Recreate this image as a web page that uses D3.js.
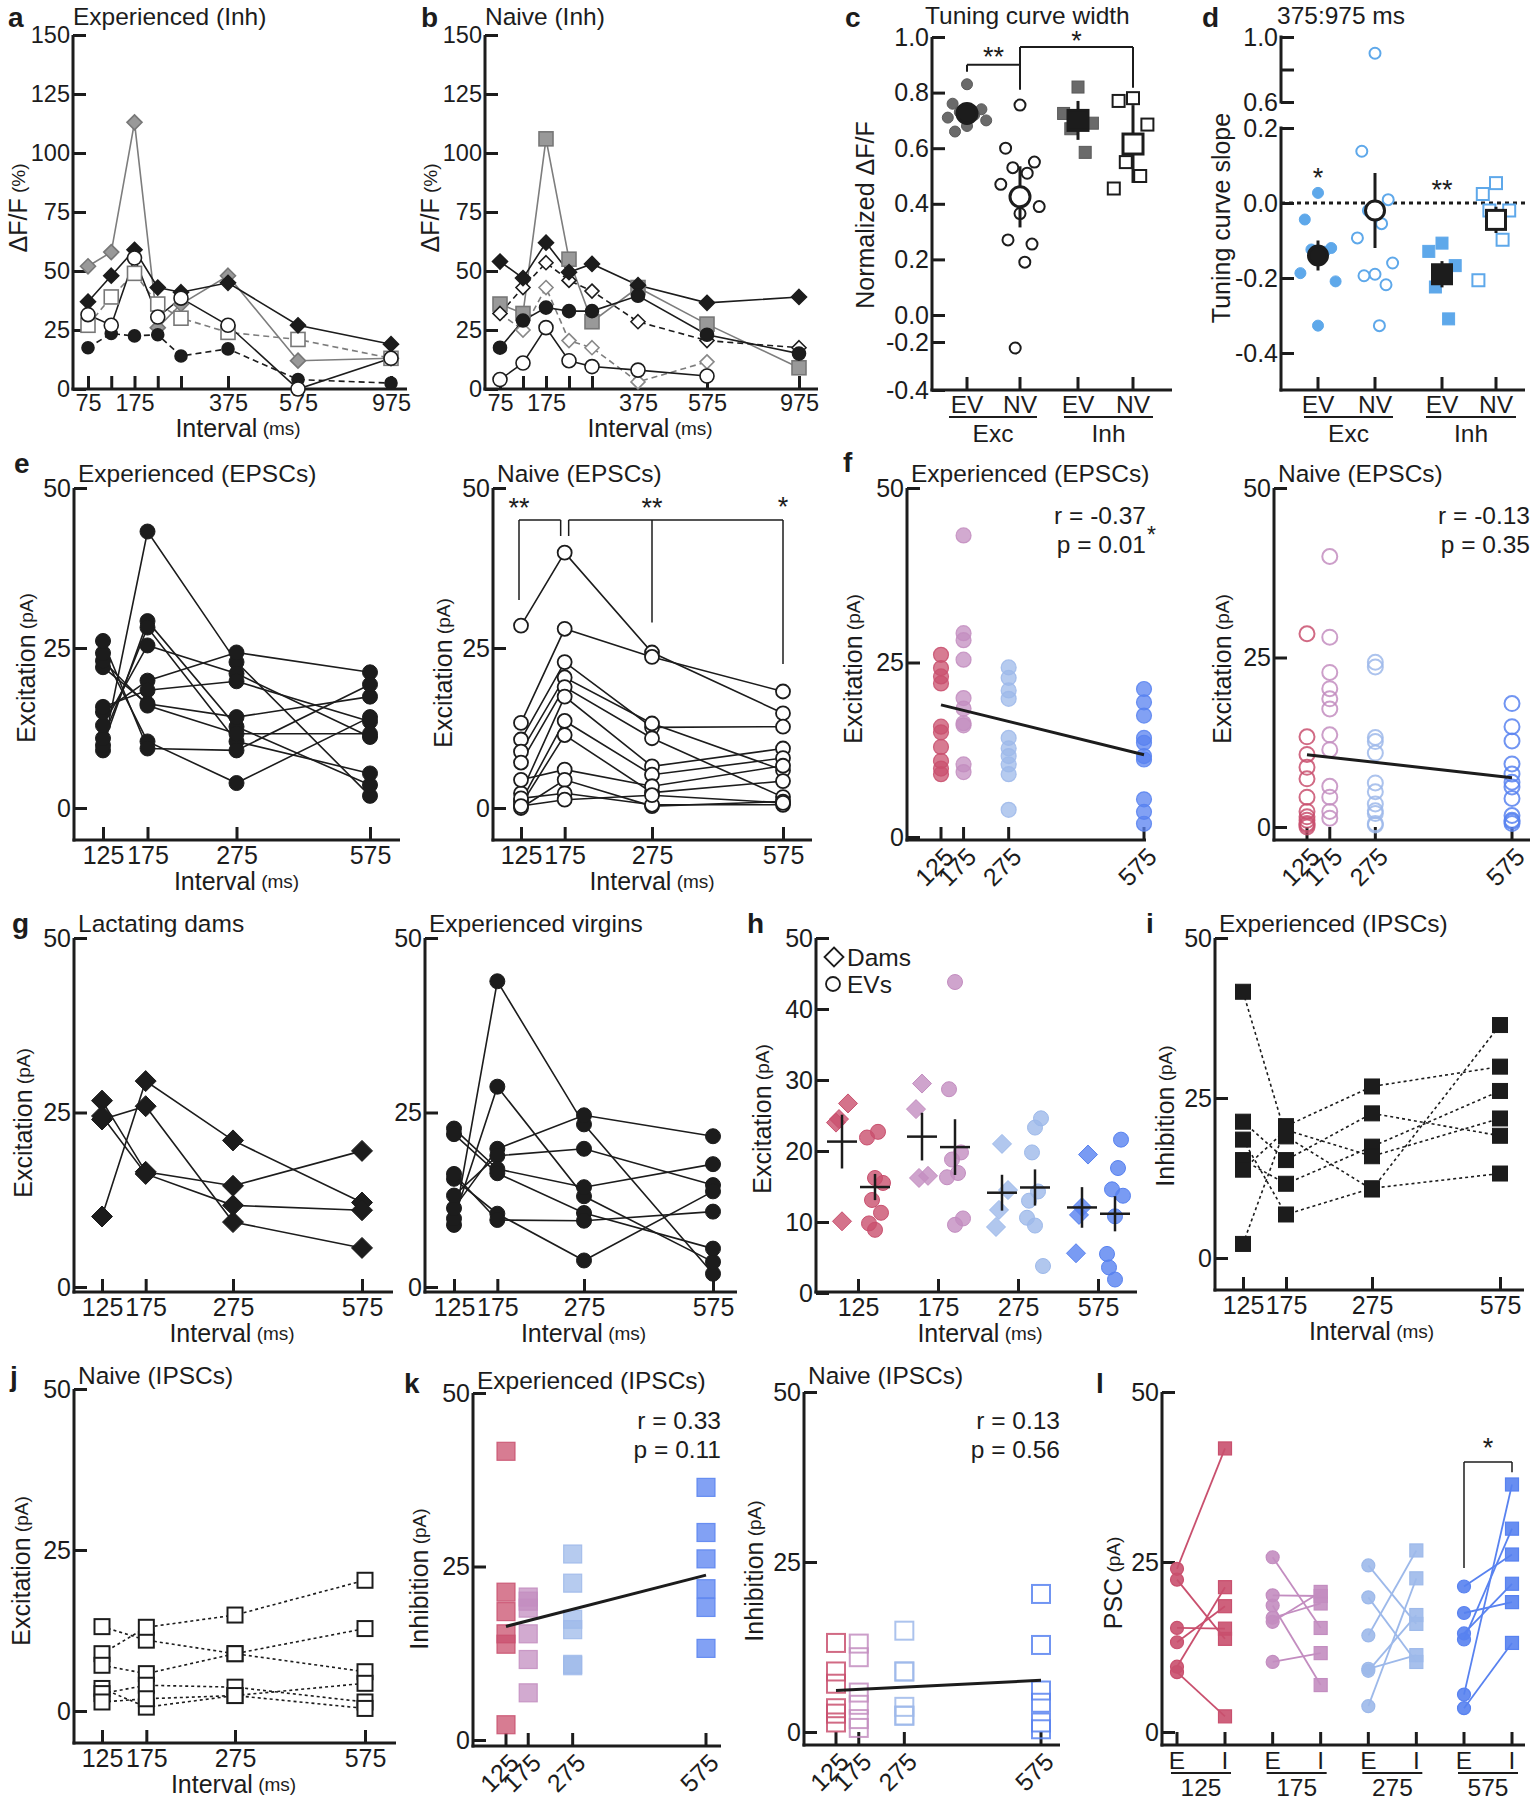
<!DOCTYPE html>
<html>
<head>
<meta charset="utf-8">
<script src="https://cdn.jsdelivr.net/npm/d3@7"></script>
<style>
  body { margin: 0; background: #fff; }
  svg text { font-family: "Liberation Sans", Arial, sans-serif; fill: #1c1c1c; }
</style>
</head>
<body>
<script>
'use strict';

// ---------- data ----------
// a / b : dF/F (%) per interval
const ivA = [75, 125, 175, 225, 275, 375, 575, 975];
const ivLabA = [75, 175, 375, 575, 975];
const aGrayDia = [52, 58, 113, 26, 36, 48, 12, 13];
const aBlackDia = [37, 48, 59, 43, 41, 45, 27, 19];
const aOpenCirc = [31.5, 27, 55.5, 30.5, 38.5, 27, 0, 13];
const aOpenSq = [27, 39, 49, 36, 30, 24, 21, 13];
const aBlackCirc = [17.5, 23.5, 22.5, 23, 14, 17, 4, 2.5];

const bBlackDia = [54, 47, 62, 49.5, 53, 44, 36.5, 39];
const bOpenDia = [32, 43, 53.5, 46, 41.5, 28.5, 20.5, 17.5];
const bGraySq = [36, 32, 106, 55, 28.5, 43, 27.5, 9];
const bBlackCirc = [17.5, 29, 34.5, 33, 33, 39.5, 23, 15];
const bGrayOpenDia = [32, 25, 43, 20.5, 17.5, 3, 11.5, null];
const bOpenCirc = [4, 11, 26, 12, 9.5, 8, 5.5, null];

// c : tuning curve width
const cLabels = ['EV', 'NV', 'EV', 'NV'];
const cExcEV = [0.83, 0.76, 0.74, 0.73, 0.72, 0.71, 0.70, 0.68, 0.66];
const cExcNV = [0.755, 0.60, 0.55, 0.53, 0.51, 0.47, 0.39, 0.365, 0.27, 0.255, 0.19, -0.225];
const cInhEV = [0.82, 0.725, 0.69, 0.67, 0.585];
const cInhNV = [0.78, 0.77, 0.685, 0.55, 0.50, 0.455];
const cMean = [0.725, 0.425, 0.70, 0.615];
const cErr = [0.02, 0.11, 0.07, 0.14];

// d : tuning curve slope
const dExcEV = [0.027, -0.044, -0.12, -0.124, -0.13, -0.187, -0.209, -0.327];
const dExcNV = [0.9, 0.138, 0.009, -0.02, -0.055, -0.093, -0.16, -0.19, -0.194, -0.218, -0.327];
const dInhEV = [-0.107, -0.129, -0.167, -0.224, -0.309];
const dInhNV = [0.053, 0.024, -0.02, -0.02, -0.098, -0.206];
const dMean = [-0.14, -0.02, -0.19, -0.045];
const dErr = [0.04, 0.10, 0.035, 0.035];

// e-l : PSC amplitudes (pA), one row per cell, columns = ivE
const ivE = [125, 175, 275, 575];
const epscExp = [
  [9.0, 43.2, 22.8, 1.9], [9.8, 29.2, 12.7, 3.6], [10.9, 28.2, 10.4, 5.4],
  [12.9, 25.4, 21.0, 11.1], [15.0, 19.9, 24.3, 21.2], [15.8, 18.4, 19.8, 13.5],
  [22.0, 16.3, 14.2, 17.4], [23.0, 16.0, 11.6, 11.6], [24.2, 10.4, 3.9, 14.2],
  [26.1, 9.3, 9.0, 19.3]
];
const epscNaive = [
  [28.5, 39.9, 24.3, 14.8], [13.3, 28.0, 23.6, 18.2], [10.7, 22.8, 12.6, 12.7],
  [8.8, 20.4, 13.2, 5.9], [7.1, 18.9, 10.9, 1.7], [2.3, 17.4, 6.5, 9.3],
  [1.0, 13.6, 5.2, 7.8], [0.5, 11.4, 2.4, 4.2], [4.4, 6.0, 3.4, 6.6],
  [0.0, 4.4, 0.3, 1.0], [1.5, 2.3, 0.5, 0.5], [0.3, 1.3, 2.0, 0.8]
];
const damsExc = [
  [10.1, 29.5, 21.0, 12.1], [24.0, 25.9, 9.3, 5.6],
  [26.7, 16.5, 14.5, 19.5], [24.5, 16.2, 11.7, 11.0]
];
const evExc = [
  [8.9, 43.8, 23.3, 1.9], [9.8, 28.7, 13.0, 3.6], [11.3, 19.8, 24.6, 21.6],
  [13.1, 18.8, 19.8, 14.6], [22.7, 16.9, 14.3, 17.6], [21.9, 16.3, 10.6, 5.5],
  [15.5, 10.5, 3.8, 13.7], [16.2, 9.6, 9.5, 10.8]
];
const ipscExp = [
  [41.6, 19.0, 10.7, 36.4], [2.2, 20.6, 26.8, 29.9], [21.3, 15.3, 22.6, 19.1],
  [15.3, 11.6, 17.4, 26.1], [13.8, 20.0, 15.9, 21.8], [18.5, 6.8, 10.9, 13.2]
];
const ipscNaive = [
  [13.1, 11.0, 8.9, 6.1], [8.9, 13.0, 14.9, 20.3], [7.1, 5.8, 8.9, 12.8],
  [3.5, 0.6, 2.4, 4.3], [2.7, 4.0, 3.7, 1.4], [1.4, 1.9, 2.4, 0.4]
];
// l : paired E / I per interval (columns = cells)
const lExc = [
  [24.0, 22.4, 15.3, 13.2, 9.6, 8.8],
  [25.7, 20.1, 18.6, 16.8, 16.2, 10.3],
  [24.5, 19.8, 14.2, 9.3, 3.8, 9.0],
  [21.4, 17.5, 14.5, 13.6, 5.5, 3.5]
];
const lInh = [
  [41.7, 13.7, 15.2, 18.5, 21.3, 2.3],
  [15.3, 20.0, 6.9, 18.9, 20.6, 11.6],
  [15.9, 10.3, 26.7, 11.3, 22.6, 17.2],
  [26.1, 19.1, 21.8, 29.9, 36.4, 13.1]
];

// ---------- helpers ----------
const INK = '#1c1c1c';
const GRAY = '#7d7d7d';
const COL = {125: '#c9506e', 175: '#c38dc0', 275: '#9db9ea', 575: '#5882f0'};
const DBLUE = '#5ea8ea';
const FS = 24.5;   // main text size
const TS = 25;     // tick label size

const svg = d3.select('body').append('svg').attr('width', 1533).attr('height', 1800);

function seg(g, x1, y1, x2, y2, w, col, dash) {
  return g.append('line').attr('x1', x1).attr('y1', y1).attr('x2', x2).attr('y2', y2)
    .attr('stroke', col || INK).attr('stroke-width', w || 3).attr('stroke-dasharray', dash || null);
}
function txt(g, x, y, s, size, anchor, weight) {
  return g.append('text').attr('x', x).attr('y', y).attr('font-size', size || FS)
    .attr('text-anchor', anchor || 'start').attr('dominant-baseline', 'central')
    .attr('font-weight', weight || null).text(s);
}
function unitText(g, x, y, main, unit, rotate) {
  const t = g.append('text').attr('text-anchor', 'middle').attr('dominant-baseline', 'central')
    .attr('transform', `translate(${x},${y})` + (rotate ? ' rotate(-90)' : ''));
  t.append('tspan').attr('font-size', 25).text(main);
  if (unit) t.append('tspan').attr('font-size', 19).text(' ' + unit);
  return t;
}
function mark(g, shape, x, y, r, fill, stroke, sw, op) {
  let el;
  if (shape === 'circle') el = g.append('circle').attr('cx', x).attr('cy', y).attr('r', r);
  else if (shape === 'square') el = g.append('rect').attr('x', x - r).attr('y', y - r).attr('width', 2 * r).attr('height', 2 * r);
  else el = g.append('path').attr('d', `M${x},${y - r}L${x + r},${y}L${x},${y + r}L${x - r},${y}Z`);
  el.attr('fill', fill).attr('stroke', stroke || 'none').attr('stroke-width', sw || 0);
  if (op != null) el.attr('fill-opacity', op);
  return el;
}
function frame(g, o) {
  seg(g, o.ax, o.top, o.ax, o.axY + 1.5);
  seg(g, o.ax - 1.5, o.axY, o.xEnd, o.axY);
}
function yAxis(g, x, scale, ticks, fmt, size) {
  const a = g.append('g').attr('transform', `translate(${x},0)`)
    .call(d3.axisLeft(scale).tickValues(ticks).tickSize(-13).tickPadding(3).tickFormat(fmt || (d => d)));
  a.select('.domain').remove();
  a.selectAll('.tick line').attr('stroke', INK).attr('stroke-width', 3);
  a.selectAll('.tick text').attr('font-size', size || TS);
  return a;
}
function xAxis(g, yPos, scale, ticks, fmt, pad, size) {
  const a = g.append('g').attr('transform', `translate(0,${yPos})`)
    .call(d3.axisBottom(scale).tickValues(ticks).tickSize(-13).tickPadding(pad || 6).tickFormat(fmt || (d => d)));
  a.select('.domain').remove();
  a.selectAll('.tick line').attr('stroke', INK).attr('stroke-width', 3);
  a.selectAll('.tick text').attr('font-size', size || TS);
  return a;
}
function jit(i) { return [0, -12, 12, -6, 6, -16, 16, 0, -10, 10, 4, -4][i % 12]; }
function fit(cells) {
  const pts = cells.flatMap(c => c.map((v, i) => [ivE[i], v]));
  const xm = d3.mean(pts, p => p[0]), ym = d3.mean(pts, p => p[1]);
  let sxy = 0, sxx = 0;
  pts.forEach(p => { sxy += (p[0] - xm) * (p[1] - ym); sxx += (p[0] - xm) ** 2; });
  const b = sxy / sxx;
  return v => ym + b * (v - xm);
}

// ---------- a / b ----------
function panelAB(o, series) {
  const g = svg.append('g');
  const x = d3.scaleLinear().domain([75, 275, 375, 575, 975]).range(o.xr);
  const y = d3.scaleLinear().domain([0, 150]).range([o.axY, o.top]);
  frame(g, o);
  yAxis(g, o.ax, y, [0, 25, 50, 75, 100, 125, 150], null, 23.5);
  xAxis(g, o.axY, x, ivA, d => ivLabA.includes(d) ? d : '', 5, 23.5);
  const ln = d3.line().defined(d => d[1] != null).x(d => x(d[0])).y(d => y(d[1]));
  series.forEach(s => {
    g.append('path').datum(ivA.map((v, i) => [v, s.data[i]])).attr('d', ln)
      .attr('fill', 'none').attr('stroke', s.stroke).attr('stroke-width', 1.6)
      .attr('stroke-dasharray', s.dash || null);
  });
  series.forEach(s => s.data.forEach((v, i) => {
    if (v != null) mark(g, s.shape, x(ivA[i]), y(v), s.r, s.fill, s.mstroke, 1.6);
  }));
  txt(g, o.ax, 16, o.title, FS);
  txt(g, o.letX, 17, o.letter, 28, 'start', 'bold');
  unitText(g, o.ylx, 208, 'ΔF/F', '(%)', true);
  unitText(g, o.xlx, 428, 'Interval', '(ms)');
}

panelAB({ax: 73, top: 35, axY: 389, xEnd: 407, xr: [88, 181, 228, 298, 391],
  title: 'Experienced (Inh)', letter: 'a', letX: 8, ylx: 18, xlx: 238}, [
  {data: aGrayDia, stroke: GRAY, shape: 'diamond', r: 7.5, fill: '#999', mstroke: '#777'},
  {data: aOpenSq, stroke: GRAY, dash: '6,4', shape: 'square', r: 7, fill: '#fff', mstroke: '#777'},
  {data: aBlackDia, stroke: INK, shape: 'diamond', r: 7.5, fill: INK, mstroke: INK},
  {data: aBlackCirc, stroke: INK, dash: '6,4', shape: 'circle', r: 6, fill: INK, mstroke: INK},
  {data: aOpenCirc, stroke: INK, shape: 'circle', r: 7, fill: '#fff', mstroke: INK}
]);

panelAB({ax: 485, top: 35, axY: 389, xEnd: 818, xr: [500, 592, 638, 707, 799],
  title: 'Naive (Inh)', letter: 'b', letX: 421, ylx: 430, xlx: 650}, [
  {data: bGrayOpenDia, stroke: GRAY, dash: '6,4', shape: 'diamond', r: 7, fill: '#fff', mstroke: '#888'},
  {data: bGraySq, stroke: GRAY, shape: 'square', r: 7, fill: '#999', mstroke: '#777'},
  {data: bOpenDia, stroke: INK, dash: '6,4', shape: 'diamond', r: 7, fill: '#fff', mstroke: INK},
  {data: bBlackDia, stroke: INK, shape: 'diamond', r: 7.5, fill: INK, mstroke: INK},
  {data: bBlackCirc, stroke: INK, shape: 'circle', r: 6.5, fill: INK, mstroke: INK},
  {data: bOpenCirc, stroke: INK, shape: 'circle', r: 7, fill: '#fff', mstroke: INK}
]);

// ---------- c / d ----------
function groupLabels(g, gx, under) {
  cLabels.forEach((s, i) => txt(g, gx[i], 404, s, FS, 'middle'));
  under.forEach(u => {
    seg(g, u[0], 417, u[1], 417, 2);
    txt(g, (u[0] + u[1]) / 2, 433, u[2], FS, 'middle');
  });
}
function meanMark(g, shape, x, y, top, bot, r, fill) {
  seg(g, x, top, x, bot, 3);
  mark(g, shape, x, y, r, fill, INK, 3);
}

(function panelC() {
  const g = svg.append('g');
  const o = {ax: 932, top: 37, axY: 390, xEnd: 1172};
  const gx = [967, 1020, 1078, 1133];
  const y = d3.scaleLinear().domain([-0.4, -0.2, 0, 1]).range([390, 342, 315, 37]);
  frame(g, o);
  yAxis(g, o.ax, y, [1, 0.8, 0.6, 0.4, 0.2, 0, -0.2, -0.4], d => d.toFixed(1));
  gx.forEach(x => seg(g, x, o.axY, x, o.axY - 13, 3));
  groupLabels(g, gx, [[949, 1037, 'Exc'], [1064, 1153, 'Inh']]);

  const groups = [cExcEV, cExcNV, cInhEV, cInhNV];
  groups.forEach((vals, k) => vals.forEach((v, i) => {
    const sq = k >= 2, open = k % 2 === 1;
    mark(g, sq ? 'square' : 'circle', gx[k] + jit(i) * 1.2, y(v), sq ? 6 : 5.5,
      open ? '#fff' : '#5a5a5a', open ? INK : '#5a5a5a', open ? 2 : 1, open ? null : 0.9);
  }));
  cMean.forEach((m, k) => {
    const sq = k >= 2, open = k % 2 === 1;
    meanMark(g, sq ? 'square' : 'circle', gx[k], y(m), y(m + cErr[k]), y(m - cErr[k]),
      10, open ? '#fff' : INK);
  });
  // significance brackets
  seg(g, gx[0], y(0.875), gx[0], y(0.90), 2);
  seg(g, gx[0], y(0.90), gx[1], y(0.90), 2);
  seg(g, gx[1], y(0.81), gx[1], y(0.964), 2);
  seg(g, gx[1], y(0.964), gx[3], y(0.964), 2);
  seg(g, gx[3], y(0.964), gx[3], y(0.817), 2);
  txt(g, (gx[0] + gx[1]) / 2, 57, '**', 27, 'middle');
  txt(g, (gx[1] + gx[3]) / 2, 41, '*', 27, 'middle');

  txt(g, 925, 15, 'Tuning curve width', FS);
  txt(g, 845, 17, 'c', 28, 'start', 'bold');
  unitText(g, 865, 215, 'Normalized  ΔF/F', null, true);
})();

(function panelD() {
  const g = svg.append('g');
  const o = {ax: 1281, axY: 390, xEnd: 1525};
  const gx = [1318, 1375, 1442, 1496];
  const y = d3.scaleLinear().domain([-0.5, 0.2, 0.6, 1.0]).range([390.5, 128, 102, 37]);
  seg(g, o.ax, y(1.0) - 1.5, o.ax, y(0.6) + 1.5);
  seg(g, o.ax, y(0.2) - 1.5, o.ax, o.axY + 1.5);
  seg(g, o.ax - 1.5, o.axY, o.xEnd, o.axY);
  yAxis(g, o.ax, y, [1.0, 0.8, 0.6, 0.2, 0, -0.2, -0.4], d => d === 0.8 ? '' : d.toFixed(1));
  gx.forEach(x => seg(g, x, o.axY, x, o.axY - 13, 3));
  groupLabels(g, gx, [[1304, 1393, 'Exc'], [1426, 1516, 'Inh']]);
  seg(g, o.ax, y(0), o.xEnd, y(0), 3, INK, '4,4');

  const groups = [dExcEV, dExcNV, dInhEV, dInhNV];
  groups.forEach((vals, k) => vals.forEach((v, i) => {
    const sq = k >= 2, open = k % 2 === 1;
    mark(g, sq ? 'square' : 'circle', gx[k] + jit(i) * 1.1, y(v), sq ? 6 : 5.5,
      open ? '#fff' : DBLUE, DBLUE, open ? 2 : 1);
  }));
  dMean.forEach((m, k) => {
    const sq = k >= 2, open = k % 2 === 1;
    meanMark(g, sq ? 'square' : 'circle', gx[k], y(m), y(m + dErr[k]), y(m - dErr[k]),
      9.5, open ? '#fff' : INK);
  });
  txt(g, gx[0], 178, '*', 27, 'middle');
  txt(g, gx[2], 190, '**', 27, 'middle');

  txt(g, 1277, 15, '375:975 ms', FS);
  txt(g, 1202, 17, 'd', 28, 'start', 'bold');
  unitText(g, 1221, 218, 'Tuning curve slope', null, true);
})();

// ---------- paired line panels (e, g, i, j) ----------
function pairedPanel(o, cells, drawMark, dash) {
  const g = svg.append('g');
  const x = d3.scaleLinear().domain([125, 275, 575]).range(o.xr);
  const y = d3.scaleLinear().domain([0, 50]).range([o.y0, o.top]);
  frame(g, o);
  yAxis(g, o.ax, y, [0, 25, 50]);
  xAxis(g, o.axY, x, ivE, d => d, 6);
  const ln = d3.line().x((d, i) => x(ivE[i])).y(d => y(d));
  cells.forEach(c => g.append('path').attr('d', ln(c)).attr('fill', 'none')
    .attr('stroke', INK).attr('stroke-width', 1.6).attr('stroke-dasharray', dash || null));
  cells.forEach(c => c.forEach((v, i) => drawMark(g, x(ivE[i]), y(v))));
  txt(g, o.ax + 4, o.titleY, o.title, FS);
  if (o.ylx) unitText(g, o.ylx, o.yly, o.ylab || 'Excitation', '(pA)', true);
  unitText(g, (o.xr[0] + o.xr[2]) / 2, o.axY + 41, 'Interval', '(ms)');
  return {g, x, y};
}
const filledCirc = (g, x, y) => mark(g, 'circle', x, y, 7.5, INK, INK, 1);
const openCirc = (g, x, y) => mark(g, 'circle', x, y, 7, '#fff', INK, 1.8);
const filledDia = (g, x, y) => mark(g, 'diamond', x, y, 10.5, INK, INK, 1);
const filledSq = (g, x, y) => mark(g, 'square', x, y, 7.5, INK, INK, 1);
const openSq = (g, x, y) => mark(g, 'square', x, y, 7.5, '#fff', INK, 2);

pairedPanel({ax: 74, top: 488, axY: 840, xEnd: 400, xr: [103, 236.5, 370], y0: 808,
  title: 'Experienced (EPSCs)', titleY: 473, ylx: 26, yly: 668}, epscExp, filledCirc);
txt(svg, 14, 463, 'e', 28, 'start', 'bold');

(function () {
  const p = pairedPanel({ax: 493, top: 488, axY: 840, xEnd: 812, xr: [521, 652, 783], y0: 808,
    title: 'Naive (EPSCs)', titleY: 473, ylx: 443, yly: 673}, epscNaive, openCirc);
  const g = p.g, x = p.x, y = p.y;
  const xa = x(125) - 2, xb = x(175) - 4, xc = x(175) + 4;
  seg(g, xa, y(32.5), xa, y(45), 1.5);
  seg(g, xa, y(45), xb, y(45), 1.5);
  seg(g, xb, y(45), xb, y(42.5), 1.5);
  seg(g, xc, y(42.5), xc, y(45), 1.5);
  seg(g, xc, y(45), x(575), y(45), 1.5);
  seg(g, x(275), y(45), x(275), y(29), 1.5);
  seg(g, x(575), y(45), x(575), y(22.5), 1.5);
  txt(g, xa, y(46.8), '**', 27, 'middle');
  txt(g, x(275), y(46.8), '**', 27, 'middle');
  txt(g, x(575), y(47), '*', 27, 'middle');
})();

pairedPanel({ax: 74, top: 938, axY: 1292, xEnd: 393, xr: [102, 233, 362], y0: 1287,
  title: 'Lactating dams', titleY: 923, ylx: 23, yly: 1123}, damsExc, filledDia);
txt(svg, 12, 923, 'g', 28, 'start', 'bold');
pairedPanel({ax: 425, top: 938, axY: 1292, xEnd: 737, xr: [454, 584, 713], y0: 1287,
  title: 'Experienced virgins', titleY: 923}, evExc, filledCirc);

pairedPanel({ax: 1215, top: 938, axY: 1290, xEnd: 1524, xr: [1243, 1372, 1500], y0: 1258,
  title: 'Experienced (IPSCs)', titleY: 923, ylx: 1165, yly: 1116, ylab: 'Inhibition'},
  ipscExp, filledSq, '3,3');
txt(svg, 1146, 923, 'i', 28, 'start', 'bold');

pairedPanel({ax: 74, top: 1389, axY: 1743, xEnd: 396, xr: [102, 235, 365], y0: 1711,
  title: 'Naive (IPSCs)', titleY: 1375, ylx: 21, yly: 1571}, ipscNaive, openSq, '3,3');
txt(svg, 10, 1376, 'j', 28, 'start', 'bold');

// ---------- scatter panels (f, k) ----------
function scatterPanel(o, cells, shape, open, r) {
  const g = svg.append('g');
  const x = d3.scaleLinear().domain([125, 575]).range(o.xr);
  const y = d3.scaleLinear().domain([0, 50]).range([o.y0, o.top]);
  frame(g, o);
  yAxis(g, o.ax, y, [0, 25, 50]);
  ivE.forEach(v => {
    seg(g, x(v), o.axY, x(v), o.axY - 13, 3);
    g.append('text').attr('font-size', TS).attr('text-anchor', 'end').attr('dominant-baseline', 'central')
      .attr('transform', `translate(${x(v) + 8},${o.axY + 12}) rotate(-45)`).text(v);
  });
  cells.forEach(c => c.forEach((v, i) => {
    const col = COL[ivE[i]];
    const el = mark(g, shape, x(ivE[i]), y(v), r, open ? 'none' : col, col, open ? 2 : 1.2, open ? null : 0.75);
    el.attr('stroke-opacity', 0.85);
  }));
  const f = fit(cells);
  seg(g, x(125), y(f(125)), x(575), y(f(575)), 3);
  txt(g, o.xEnd, o.rY, o.r, FS, 'end');
  txt(g, o.xEnd, o.rY + 29, o.p, FS, 'end');
  if (o.star) txt(g, o.xEnd + 1, o.rY + 20, '*', 23);
  txt(g, o.ax + 4, o.titleY, o.title, FS);
  unitText(g, o.ylx, o.yly, o.ylab, '(pA)', true);
  return g;
}

scatterPanel({ax: 907, top: 488, axY: 840, xEnd: 1146, xr: [941, 1144], y0: 837,
  title: 'Experienced (EPSCs)', titleY: 473, ylx: 853, yly: 669, ylab: 'Excitation',
  r: 'r = -0.37', p: 'p = 0.01', star: true, rY: 515}, epscExp, 'circle', false, 7.5);
txt(svg, 843, 462, 'f', 28, 'start', 'bold');
scatterPanel({ax: 1274, top: 488, axY: 840, xEnd: 1530, xr: [1307, 1512], y0: 827,
  title: 'Naive (EPSCs)', titleY: 473, ylx: 1222, yly: 669, ylab: 'Excitation',
  r: 'r = -0.13', p: 'p = 0.35', rY: 515}, epscNaive, 'circle', true, 7.5);

scatterPanel({ax: 473, top: 1393, axY: 1746, xEnd: 721, xr: [506, 706], y0: 1740,
  title: 'Experienced (IPSCs)', titleY: 1380, ylx: 419, yly: 1579, ylab: 'Inhibition',
  r: 'r = 0.33', p: 'p = 0.11', rY: 1420}, ipscExp, 'square', false, 9);
txt(svg, 404, 1383, 'k', 28, 'start', 'bold');
scatterPanel({ax: 804, top: 1392, axY: 1745, xEnd: 1060, xr: [836, 1041], y0: 1732,
  title: 'Naive (IPSCs)', titleY: 1375, ylx: 754, yly: 1571, ylab: 'Inhibition',
  r: 'r = 0.13', p: 'p = 0.56', rY: 1420}, ipscNaive, 'square', true, 9);

// ---------- h ----------
(function panelH() {
  const g = svg.append('g');
  const o = {ax: 816, top: 938, axY: 1292, xEnd: 1137};
  const x = d3.scalePoint().domain(ivE).range([858, 1098]);
  const y = d3.scaleLinear().domain([0, 50]).range([1293, 938]);
  frame(g, o);
  yAxis(g, o.ax, y, [0, 10, 20, 30, 40, 50]);
  xAxis(g, o.axY, x, ivE, d => d, 6);
  ivE.forEach((iv, k) => {
    const col = COL[iv];
    const dv = damsExc.map(c => c[k]);
    const ev = evExc.map(c => c[k]);
    dv.forEach((v, i) => mark(g, 'diamond', x(iv) - 16 + jit(i) * 0.5, y(v), 9.5, col, col, 1, 0.8));
    ev.forEach((v, i) => mark(g, 'circle', x(iv) + 17 + jit(i) * 0.5, y(v), 7.5, col, col, 1, 0.8));
    [[x(iv) - 16, dv], [x(iv) + 17, ev]].forEach(([cx, vals]) => {
      const m = d3.mean(vals), se = d3.deviation(vals) / Math.sqrt(vals.length);
      seg(g, cx - 15, y(m), cx + 15, y(m), 2.5);
      seg(g, cx, y(m - se), cx, y(m + se), 2.5);
    });
  });
  mark(g, 'diamond', 834, 957, 9.5, '#fff', INK, 1.8);
  txt(g, 847, 957, 'Dams', FS);
  mark(g, 'circle', 833, 984, 7, '#fff', INK, 1.8);
  txt(g, 847, 984, 'EVs', FS);
  txt(g, 747, 923, 'h', 28, 'start', 'bold');
  unitText(g, 762, 1119, 'Excitation', '(pA)', true);
  unitText(g, 980, 1333, 'Interval', '(ms)');
})();

// ---------- l ----------
(function panelL() {
  const g = svg.append('g');
  const o = {ax: 1162, top: 1392, axY: 1745, xEnd: 1525};
  const x = d3.scalePoint().domain(ivE).range([1201, 1488]);
  const y = d3.scaleLinear().domain([0, 50]).range([1732, 1392]);
  frame(g, o);
  yAxis(g, o.ax, y, [0, 25, 50]);
  ivE.forEach((iv, k) => {
    const col = COL[iv];
    const xe = x(iv) - 24, xi = x(iv) + 24;
    seg(g, xe, o.axY, xe, o.axY - 13, 3);
    seg(g, xi, o.axY, xi, o.axY - 13, 3);
    txt(g, xe, 1760, 'E', FS, 'middle');
    txt(g, xi, 1760, 'I', FS, 'middle');
    seg(g, x(iv) - 30, 1773, x(iv) + 30, 1773, 2);
    txt(g, x(iv), 1787, iv, FS, 'middle');
    lExc[k].forEach((v, i) => seg(g, xe, y(v), xi, y(lInh[k][i]), 1.8, col));
    lExc[k].forEach(v => mark(g, 'circle', xe, y(v), 6.5, col, col, 1.2, 0.9));
    lInh[k].forEach(v => mark(g, 'square', xi, y(v), 6.5, col, col, 1.2, 0.9));
  });
  const xe = x(575) - 24, xi = x(575) + 24;
  seg(g, xe, y(24.1), xe, y(39.7), 1.5);
  seg(g, xe, y(39.7), xi, y(39.7), 1.5);
  seg(g, xi, y(39.7), xi, y(38.2), 1.5);
  txt(g, x(575), y(41.7), '*', 27, 'middle');
  txt(g, 1096, 1383, 'l', 28, 'start', 'bold');
  unitText(g, 1113, 1583, 'PSC', '(pA)', true);
})();
</script>
</body>
</html>
